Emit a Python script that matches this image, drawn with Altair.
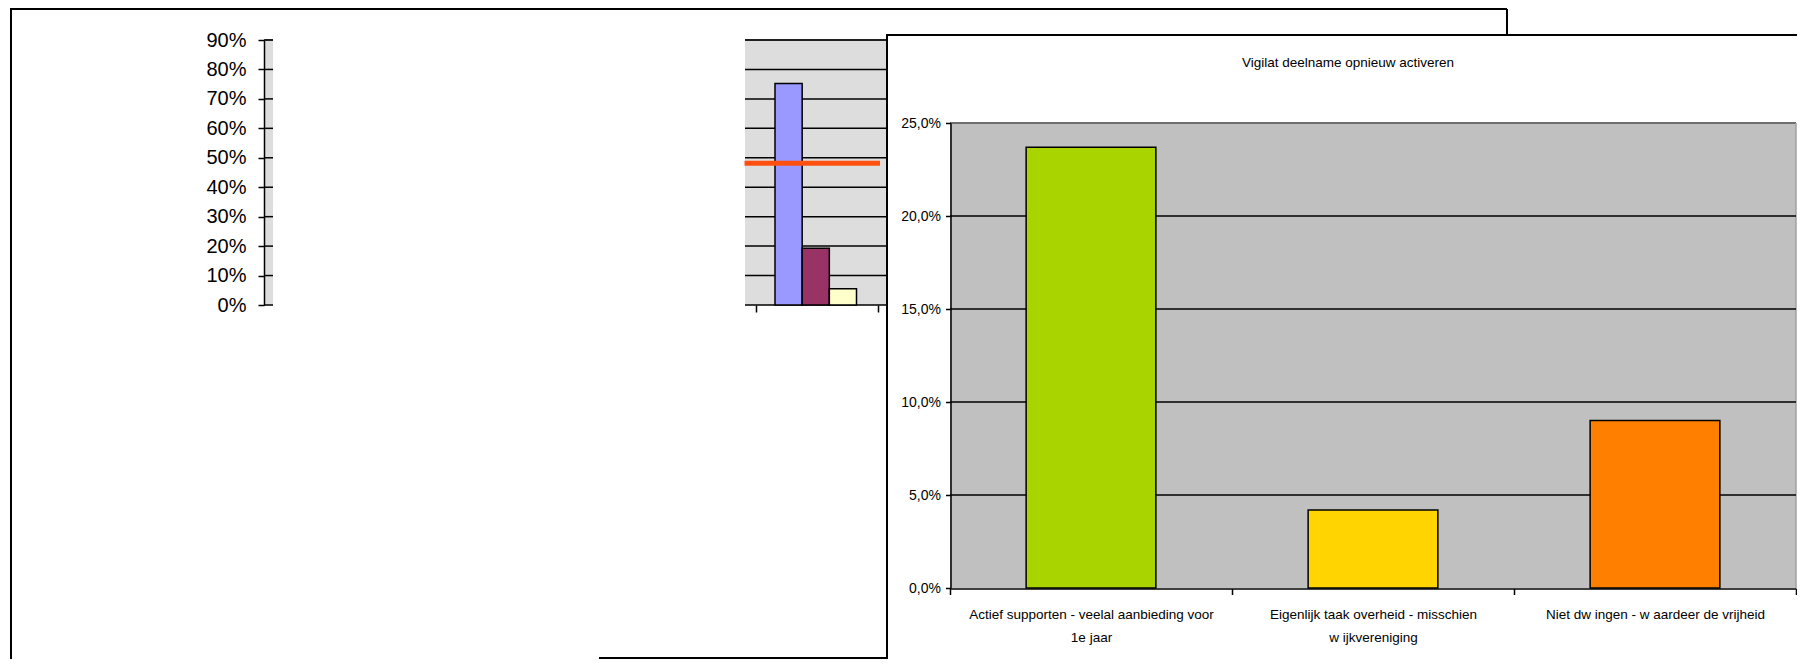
import altair as alt
import pandas as pd

FONT = "Liberation Sans"
W, H = 1789, 651
OFF = 8  # page margin


def px(v):
    """Picture coordinate -> chart pixel."""
    return v - OFF


# ---------------- data: front chart ----------------
front_title = "Vigilat deelname opnieuw activeren"
front_labels = [
    "Actief supporten - veelal aanbieding voor|1e jaar",
    "Eigenlijk taak overheid - misschien|w ijkvereniging",
    "Niet dw ingen - w aardeer de vrijheid",
]
front_values = [0.237, 0.042, 0.090]
front_colors = ["#AAD400", "#FFD400", "#FF7F00"]
front_y_ticks = [0.0, 0.05, 0.10, 0.15, 0.20, 0.25]
front_grid = [0.05, 0.10, 0.15, 0.20]

# ---------------- data: back chart ----------------
back_series = ["Reeks 1", "Reeks 2", "Reeks 3"]
back_values = [0.752, 0.193, 0.055]
back_colors = ["#9999FF", "#993366", "#FFFFCC"]
back_y_ticks = [0.0, 0.1, 0.2, 0.3, 0.4, 0.5, 0.6, 0.7, 0.8, 0.9]
back_category = ["Categorie"]
back_mean = [0.481]

# ---------------- tables ----------------
one = pd.DataFrame({"a": [0]})
front_df = pd.DataFrame({"cat": front_labels, "v": front_values})
front_grid_df = pd.DataFrame({"v": front_grid})
back_df = pd.DataFrame({"s": back_series, "v": back_values})
back_grid_df = pd.DataFrame({"v": back_y_ticks})
back_mean_df = pd.DataFrame({"v": back_mean})
back_cat_df = pd.DataFrame({"c": back_category})
title_df = pd.DataFrame({"t": [front_title]})

FRONT_RIGHT = 1796

back_y = alt.Scale(domain=[0, 0.9], range=[px(305), px(40)], nice=False, zero=True)
front_y = alt.Scale(domain=[0, 0.25], range=[px(588), px(123)], nice=False, zero=True)


def vline(x, y1, y2, color="black", w=2):
    return alt.Chart(one).mark_rule(color=color, strokeWidth=w).encode(
        x=alt.value(x), y=alt.value(y1), y2=alt.value(y2))


def hline(x1, x2, y, color="black", w=2):
    return alt.Chart(one).mark_rule(color=color, strokeWidth=w).encode(
        x=alt.value(x1), x2=alt.value(x2), y=alt.value(y))


def box(x1, x2, y1, y2, fill, stroke=None, w=0):
    kw = dict(fill=fill)
    if stroke:
        kw.update(stroke=stroke, strokeWidth=w)
    return alt.Chart(one).mark_rect(**kw).encode(
        x=alt.value(x1), x2=alt.value(x2), y=alt.value(y1), y2=alt.value(y2))


# ---------------- back chart ----------------
back_frame = [
    vline(px(11), 0, H),
    hline(px(11), px(1507), 1),
    vline(px(1507), 1, px(36)),
    hline(px(599), px(892), H - 1),
]
back_bg = [
    box(px(265), px(273), px(40), px(305), "#DDDDDD"),
    box(px(745), px(887), px(40), px(305), "#DDDDDD"),
    hline(px(265), px(273), px(40), "#808080", 2),
    hline(px(745), px(887), px(40), "#808080", 2),
]

back_grid_axis = alt.Chart(back_grid_df).mark_rule(color="black", strokeWidth=1.5).encode(
    y=alt.Y("v:Q", scale=back_y,
            axis=alt.Axis(orient="left", offset=-px(264), values=back_y_ticks, format=".0%",
                          labelFont=FONT, labelFontSize=20, labelColor="black",
                          tickColor="black", tickSize=6, tickWidth=1.5,
                          domainColor="black", domainWidth=1.5, labelPadding=12,
                          grid=False, title=None, zindex=1)),
    x=alt.value(px(264)), x2=alt.value(px(273)))

back_grid_right = alt.Chart(back_grid_df).mark_rule(color="black", strokeWidth=1.5).encode(
    y=alt.Y("v:Q", scale=back_y, axis=None),
    x=alt.value(px(745)), x2=alt.value(px(887)))

back_bars = alt.Chart(back_df).mark_bar(stroke="black", strokeWidth=1.5).encode(
    x=alt.X("s:N", scale=alt.Scale(domain=back_series, range=[px(775), px(856.5)],
                                   paddingInner=0, paddingOuter=0), axis=None),
    y=alt.Y("v:Q", scale=back_y, axis=None),
    fill=alt.Fill("s:N", scale=alt.Scale(domain=back_series, range=back_colors), legend=None))

back_mean_line = alt.Chart(back_mean_df).mark_rule(color="#FF5010", strokeWidth=5).encode(
    y=alt.Y("v:Q", scale=back_y, axis=None),
    x=alt.value(px(744.5)), x2=alt.value(px(880)))

back_x_axis = alt.Chart(back_cat_df).mark_point(opacity=0).encode(
    x=alt.X("c:N", scale=alt.Scale(type="band", domain=back_category,
                                   range=[px(755.5), px(877.7)], paddingInner=0, paddingOuter=0),
            axis=alt.Axis(orient="bottom", offset=px(305) - H, labels=False, domain=False,
                          ticks=True, tickSize=7, tickBand="extent", tickColor="black",
                          tickWidth=1.5, grid=False, title=None, zindex=1)),
    y=alt.value(px(305)))

# ---------------- front chart ----------------
front_frame = box(px(887), W + 10, px(35), H + 10, "white", "black", 2)

front_title_mark = alt.Chart(title_df).mark_text(
    font=FONT, fontSize=13.5, color="black", align="center", baseline="middle").encode(
    text="t:N", x=alt.value(px(1348)), y=alt.value(px(63)))

front_bg = [
    box(px(950), px(FRONT_RIGHT), px(123), px(588), "#C0C0C0"),
    hline(px(950), px(FRONT_RIGHT), px(123), "#6E6E6E", 2),
    vline(px(FRONT_RIGHT), px(123), px(588), "#A0A0A0", 1.5),
]

front_grid_axis = alt.Chart(front_grid_df).mark_rule(color="black", strokeWidth=1.5).encode(
    y=alt.Y("v:Q", scale=front_y,
            axis=alt.Axis(orient="left", offset=-px(950.5), values=front_y_ticks,
                          labelExpr="replace(format(datum.value, '.1%'), '.', ',')",
                          labelFont=FONT, labelFontSize=14, labelColor="black",
                          tickColor="black", tickSize=5, tickWidth=1.5,
                          domainColor="black", domainWidth=1.5, labelPadding=5,
                          grid=False, title=None, zindex=1)),
    x=alt.value(px(950)), x2=alt.value(px(FRONT_RIGHT)))

front_bars = alt.Chart(front_df).mark_bar(
    stroke="black", strokeWidth=1.5, width=alt.RelativeBandSize(0.46)).encode(
    x=alt.X("cat:N", scale=alt.Scale(domain=front_labels, range=[px(950), px(FRONT_RIGHT)],
                                     paddingInner=0, paddingOuter=0),
            axis=alt.Axis(orient="bottom", offset=px(588.5) - H, labelAngle=0,
                          labelExpr="split(datum.label, '|')",
                          labelFont=FONT, labelFontSize=13.5, labelColor="black",
                          labelLineHeight=23, labelPadding=13, labelLimit=500,
                          labelBaseline="top",
                          tickBand="extent", tickColor="black", tickSize=6, tickWidth=1.5,
                          domainColor="black", domainWidth=1.5,
                          grid=False, title=None, zindex=1)),
    y=alt.Y("v:Q", scale=front_y, axis=None),
    fill=alt.Fill("cat:N", scale=alt.Scale(domain=front_labels, range=front_colors), legend=None))

layers = (back_frame + back_bg + [back_grid_axis, back_grid_right, back_bars,
                                  back_mean_line, back_x_axis, front_frame,
                                  front_title_mark] + front_bg + [front_grid_axis, front_bars])

chart = alt.layer(*layers).resolve_scale(
    x="independent", y="independent", fill="independent"
).properties(
    width=W, height=H, padding=0, autosize=alt.AutoSizeParams(type="none"),
    background="white",
).configure_view(stroke=None)

chart.save("out.html", embed_options={"renderer": "svg", "actions": False})
